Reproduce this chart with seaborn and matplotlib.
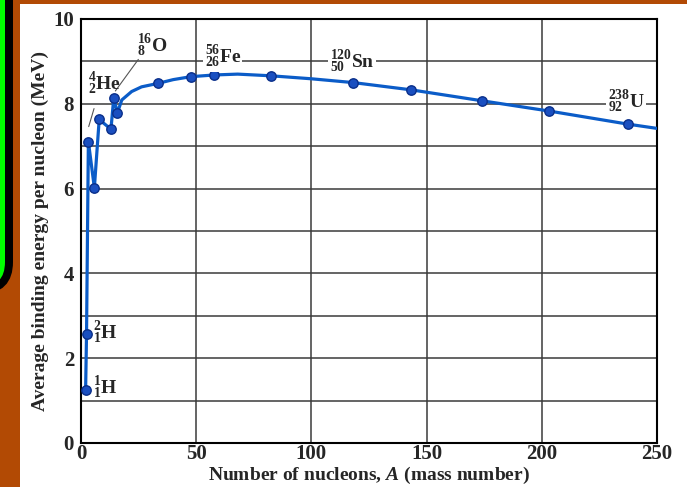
import matplotlib
matplotlib.use("Agg")
import matplotlib.pyplot as plt
import seaborn as sns
import pandas as pd
from matplotlib.patches import FancyBboxPatch, Rectangle
from matplotlib.transforms import IdentityTransform

# ---- data ----
mass_pts = [2.0, 2.4, 3.2, 5.8, 7.9, 13.0, 14.2, 15.8, 33.3, 47.7, 57.9, 82.6,
            118.2, 143.2, 174.2, 203.1, 237.4]
be_pts = [1.25, 2.56, 7.11, 6.02, 7.63, 7.40, 8.13, 7.79, 8.48, 8.64, 8.68, 8.66,
          8.50, 8.33, 8.07, 7.83, 7.52]

mass_curve = [2.0, 2.4, 3.2, 5.8, 7.9, 13.0, 14.2, 15.8, 17.7, 22.0, 26.3, 33.3,
              40.0, 47.7, 57.9, 68.0, 82.6, 100.0, 118.2, 143.2, 174.2, 203.1,
              237.4, 250.0]
be_curve = [1.25, 2.56, 7.11, 6.02, 7.63, 7.40, 8.13, 7.79, 8.09, 8.29, 8.40, 8.48,
            8.57, 8.64, 8.68, 8.70, 8.66, 8.59, 8.50, 8.33, 8.07, 7.83,
            7.52, 7.42]

nuclide_labels = [r'$^{1}_{1}$H', r'$^{2}_{1}$H', r'$^{4}_{2}$He', r'$^{16}_{8}$O',
                  r'$^{56}_{26}$Fe', r'$^{120}_{50}$Sn', r'$^{238}_{92}$U']
label_A = [10.6, 10.6, 10.0, 30.8, 61.5, 117.6, 236.5]
label_B = [1.30, 2.59, 8.47, 9.36, 9.10, 9.00, 8.04]

x_ticks = [0, 50, 100, 150, 200, 250]
x_tick_labels = ['0', '50', '100', '150', '200', '250']
y_ticks = [0, 1, 2, 3, 4, 5, 6, 7, 8, 9, 10]
y_tick_labels = ['0', '', '2', '', '4', '', '6', '', '8', '', '10']

# ---- style ----
sns.set_style("white")
plt.rcParams['font.family'] = ['Liberation Serif', 'DejaVu Serif']
plt.rcParams['font.weight'] = 'bold'
plt.rcParams['mathtext.fontset'] = 'custom'
plt.rcParams['mathtext.rm'] = 'Liberation Serif:bold'
plt.rcParams['mathtext.it'] = 'Liberation Serif:bold:italic'
plt.rcParams['mathtext.bf'] = 'Liberation Serif:bold'
plt.rcParams['mathtext.default'] = 'rm'

W, H = 687, 487
fig = plt.figure(figsize=(W / 100, H / 100), dpi=100)
fig.patch.set_facecolor('#B24A04')

# white page area
fig.add_artist(Rectangle((20, 0), W - 20, H - 4, transform=IdentityTransform(),
                         facecolor='white', edgecolor='none', zorder=-10))
# green rounded strip with black border at top-left
fig.add_artist(FancyBboxPatch((-120, 197), 129, 400,
                              boxstyle='round,pad=0,rounding_size=28',
                              transform=IdentityTransform(),
                              facecolor='#00FF00', edgecolor='black',
                              linewidth=8 * 0.72, zorder=-9))

ax = fig.add_axes([81 / W, (H - 443) / H, (657 - 81) / W, (443 - 19) / H])
ax.set_facecolor('white')

curve_df = pd.DataFrame({'A': mass_curve, 'B': be_curve})
pts_df = pd.DataFrame({'A': mass_pts, 'B': be_pts})

sns.lineplot(data=curve_df, x='A', y='B', sort=False, ax=ax, color='#0B5CC8',
             linewidth=2.3, zorder=3, clip_on=True)
sns.scatterplot(data=pts_df, x='A', y='B', ax=ax, color='#1A4FC0', s=46,
                edgecolor='#0A2F8A', linewidth=1.0, zorder=4, clip_on=False)

ax.set_xlim(0, 250)
ax.set_ylim(0, 10)
ax.set_xticks(x_ticks)
ax.set_xticklabels(x_tick_labels, fontsize=15, fontweight='bold')
ax.set_yticks(y_ticks)
ax.set_yticklabels(y_tick_labels, fontsize=15, fontweight='bold')
ax.tick_params(axis='x', length=0, pad=1)
ax.tick_params(axis='y', length=0, pad=5)
ax.grid(True, color='#3a3a3a', linewidth=1.1)
ax.set_axisbelow(True)
for s in ax.spines.values():
    s.set_color('black')
    s.set_linewidth(1.5)

ax.set_xlabel(r'Number of nucleons, $\mathit{A}$ (mass number)', fontsize=14,
              fontweight='bold', labelpad=0)
ax.set_ylabel('Average binding energy per nucleon (MeV)', fontsize=14,
              fontweight='bold', labelpad=3)

# nuclide labels
for i, (lab, a, b) in enumerate(zip(nuclide_labels, label_A, label_B)):
    boxed = i >= 4
    ax.text(a, b, lab, fontsize=14, fontweight='bold', ha='center', va='center',
            zorder=5,
            bbox=dict(facecolor='white', edgecolor='none', pad=1) if boxed else None)

# leader lines
ax.annotate('', xy=(3.0, 7.40), xytext=(6.0, 7.95),
            arrowprops=dict(arrowstyle='-', color='#555555', linewidth=0.8))
ax.annotate('', xy=(14.2, 8.25), xytext=(25.6, 9.10),
            arrowprops=dict(arrowstyle='-', color='#555555', linewidth=0.8))

fig.savefig('out.png', dpi=100, facecolor=fig.get_facecolor())
